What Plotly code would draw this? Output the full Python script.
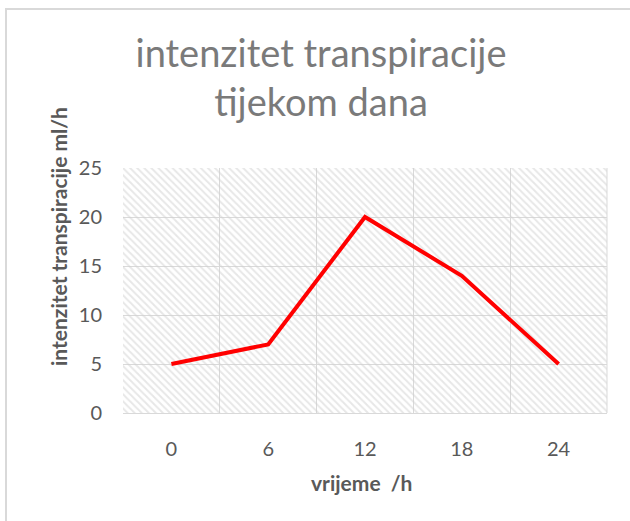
import plotly.graph_objects as go

# Transpiration intensity over the day
hours = ["0", "6", "12", "18", "24"]
transpiration = [5, 7, 20, 14, 5]
y_ticks = [0, 5, 10, 15, 20, 25]
y_max = 25

FONT = "Lato"
GREY_TEXT = "#595959"
GRID = "#d9d9d9"

fig = go.Figure()

# hatched plot-area background, one full-height bar per category slot
fig.add_trace(go.Bar(
    x=hours,
    y=[y_max] * len(hours),
    width=1,
    marker=dict(
        color="rgba(0,0,0,0)",
        line=dict(width=0),
        pattern=dict(shape="\\", fgcolor="#d0d0d0", bgcolor="rgba(0,0,0,0)",
                     size=5, solidity=0.4),
    ),
    hoverinfo="skip",
    showlegend=False,
))

fig.add_trace(go.Scatter(
    x=hours,
    y=transpiration,
    mode="lines",
    line=dict(color="#ff0000", width=4),
    showlegend=False,
))

fig.update_layout(
    width=630,
    height=521,
    margin=dict(l=123, r=23, t=168, b=108),
    paper_bgcolor="white",
    plot_bgcolor="white",
    bargap=0,
    font=dict(family=FONT, color=GREY_TEXT),
    title=dict(
        text="intenzitet transpiracije<br>tijekom dana",
        x=321 / 630, xref="container", xanchor="center",
        y=1 - 67 / 521, yref="container", yanchor="top",
        font=dict(family=FONT, size=38, color="#7a7a7a"),
    ),
)

fig.update_xaxes(
    type="category",
    tickson="boundaries",
    showgrid=True,
    gridcolor=GRID,
    gridwidth=1,
    showline=True,
    linecolor=GRID,
    linewidth=1,
    ticks="",
    ticklabelstandoff=18,
    tickfont=dict(family=FONT, size=20, color=GREY_TEXT),
    range=[-0.5, len(hours) - 0.5],
    fixedrange=True,
)

fig.update_yaxes(
    range=[0, y_max],
    tickvals=y_ticks,
    showgrid=True,
    gridcolor=GRID,
    gridwidth=1,
    zeroline=False,
    showline=False,
    ticks="",
    ticklabelstandoff=20,
    tickfont=dict(family=FONT, size=20, color=GREY_TEXT),
    fixedrange=True,
)

# right edge of the plot area
fig.add_shape(type="line", xref="paper", yref="paper", x0=1, x1=1, y0=0, y1=1,
              line=dict(color=GRID, width=1))

# chart frame, running off the right and bottom edges of the page
fig.add_shape(type="rect", xref="paper", yref="paper",
              x0=(6 - 123) / 484, x1=(645 - 123) / 484,
              y0=(413 - 535) / 245, y1=(413 - 9) / 245,
              line=dict(color=GRID, width=2), fillcolor="rgba(0,0,0,0)",
              layer="below")

fig.add_annotation(
    text="<b>intenzitet transpiracije ml/h</b>",
    xref="paper", yref="paper",
    x=(58 - 123) / 484, y=(413 - 237) / 245,
    xanchor="center", yanchor="middle",
    textangle=-90, showarrow=False,
    font=dict(family=FONT, size=21, color=GREY_TEXT),
)

fig.add_annotation(
    text="<b>vrijeme  /h</b>",
    xref="paper", yref="paper",
    x=(361 - 123) / 484, y=(413 - 483) / 245,
    xanchor="center", yanchor="middle",
    showarrow=False,
    font=dict(family=FONT, size=21, color=GREY_TEXT),
)

fig.write_html("out.html")
